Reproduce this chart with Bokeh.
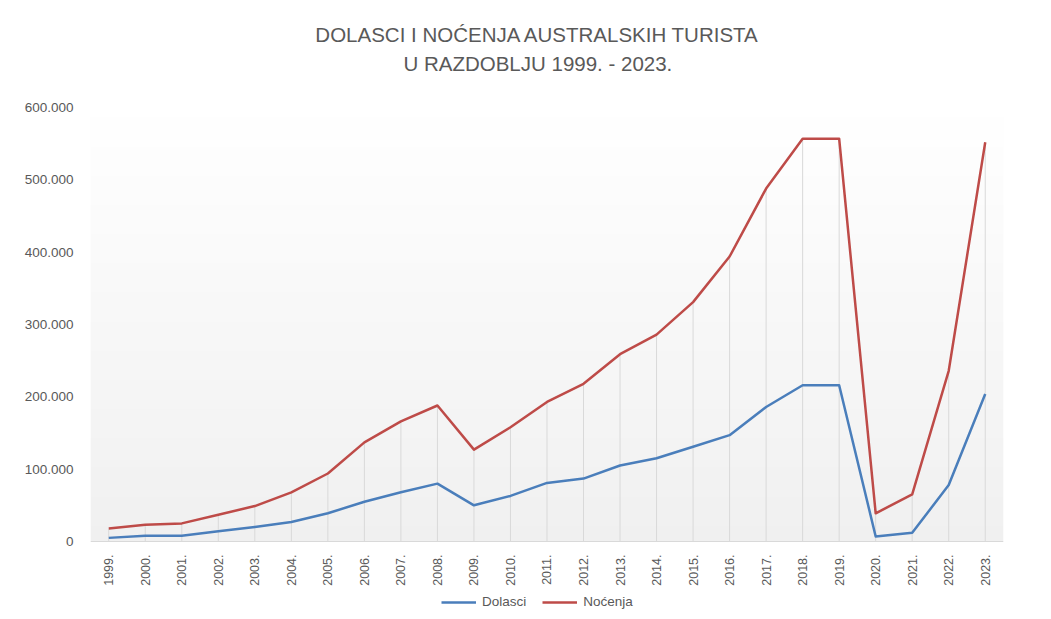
import numpy as np
from bokeh.plotting import figure
from bokeh.models import (Range1d, FixedTicker, Label, Legend, LegendItem)
from bokeh.embed import file_html
from bokeh.resources import INLINE

years = ["1999.", "2000.", "2001.", "2002.", "2003.", "2004.", "2005.", "2006.",
         "2007.", "2008.", "2009.", "2010.", "2011.", "2012.", "2013.", "2014.",
         "2015.", "2016.", "2017.", "2018.", "2019.", "2020.", "2021.", "2022.", "2023."]
dolasci = [5000, 8000, 8000, 14000, 20000, 27000, 39000, 55000, 68000, 80000,
           50000, 63000, 81000, 87000, 105000, 115000, 131000, 147000, 186000,
           216000, 216000, 7000, 12000, 78000, 204000]
nocenja = [18000, 23000, 25000, 37000, 49000, 68000, 94000, 137000, 166000, 188000,
           127000, 158000, 193000, 218000, 259000, 286000, 331000, 394000, 488000,
           557000, 557000, 39000, 65000, 236000, 552000]
y_ticks = [0, 100000, 200000, 300000, 400000, 500000, 600000]
y_tick_labels = ["0", "100.000", "200.000", "300.000", "400.000", "500.000", "600.000"]
title_lines = ["DOLASCI I NOĆENJA AUSTRALSKIH TURISTA", "U RAZDOBLJU 1999. - 2023."]
series_names = ["Dolasci", "Noćenja"]

xs = list(range(len(years)))
TXT = "#595959"
FONT = "Liberation Sans"

Y_END = 748000      # top of canvas (room for the title)
Y_TOP = 605500      # top of the shaded plot area
Y_BOTTOM = -96800   # bottom of canvas (room for labels and legend)

p = figure(width=1035, height=611, output_backend="svg", toolbar_location=None,
           x_range=Range1d(-0.5, len(years) - 0.5), y_range=Range1d(Y_BOTTOM, Y_END),
           min_border_left=90, min_border_right=32, min_border_top=0,
           min_border_bottom=0, title=None)
p.outline_line_color = None
p.background_fill_color = "white"
p.grid.visible = False

# gradient background of plot area (above the category axis)
n = 256
grad = np.zeros((n, 1), dtype=np.uint32)
view = grad.view(dtype=np.uint8).reshape((n, 1, 4))
for i in range(n):
    t = i / (n - 1)  # 0 bottom -> 1 top
    c = int(round(240 + (255 - 240) * t))
    view[i, 0, :] = [c, c, c, 255]
p.image_rgba(image=[grad], x=-0.5, y=0, dw=len(years), dh=Y_TOP)

# drop lines
p.segment(x0=xs, y0=[0] * len(xs), x1=xs, y1=nocenja, line_color="#d9d9d9", line_width=1)

r1 = p.line(xs, dolasci, line_color="#4A7EBB", line_width=2.5, line_join="round")
r2 = p.line(xs, nocenja, line_color="#BE4B48", line_width=2.5, line_join="round")

# axes
xa = p.xaxis[0]
xa.fixed_location = 0
xa.ticker = FixedTicker(ticks=xs)
xa.major_label_overrides = {i: y for i, y in enumerate(years)}
xa.major_label_orientation = np.pi / 2
xa.axis_line_color = "#d9d9d9"
xa.major_tick_line_color = None
xa.minor_tick_line_color = None
xa.major_label_text_color = TXT
xa.major_label_text_font = FONT
xa.major_label_text_font_size = "12.5px"
xa.major_label_standoff = 7

ya = p.yaxis[0]
ya.ticker = FixedTicker(ticks=y_ticks)
ya.major_label_overrides = {t: l for t, l in zip(y_ticks, y_tick_labels)}
ya.axis_line_color = None
ya.major_tick_line_color = None
ya.minor_tick_line_color = None
ya.major_label_text_color = TXT
ya.major_label_text_font = FONT
ya.major_label_text_font_size = "13.5px"
ya.major_label_standoff = 11

legend = Legend(items=[LegendItem(label=series_names[0], renderers=[r1]),
                       LegendItem(label=series_names[1], renderers=[r2])],
                orientation="horizontal", location=(351, 2),
                border_line_color=None, background_fill_alpha=0,
                label_text_color=TXT, label_text_font=FONT,
                label_text_font_size="13.5px", glyph_width=35, glyph_height=14,
                label_standoff=6, spacing=16, padding=2, margin=0)
p.add_layout(legend, "center")

for txt, yv in zip(title_lines, [701000, 661000]):
    p.add_layout(Label(x=11.75, y=yv, text=txt, text_align="center",
                       text_baseline="middle", text_font=FONT,
                       text_font_size="20.5px", text_color=TXT))

open("out.html", "w").write(file_html(p, INLINE))
